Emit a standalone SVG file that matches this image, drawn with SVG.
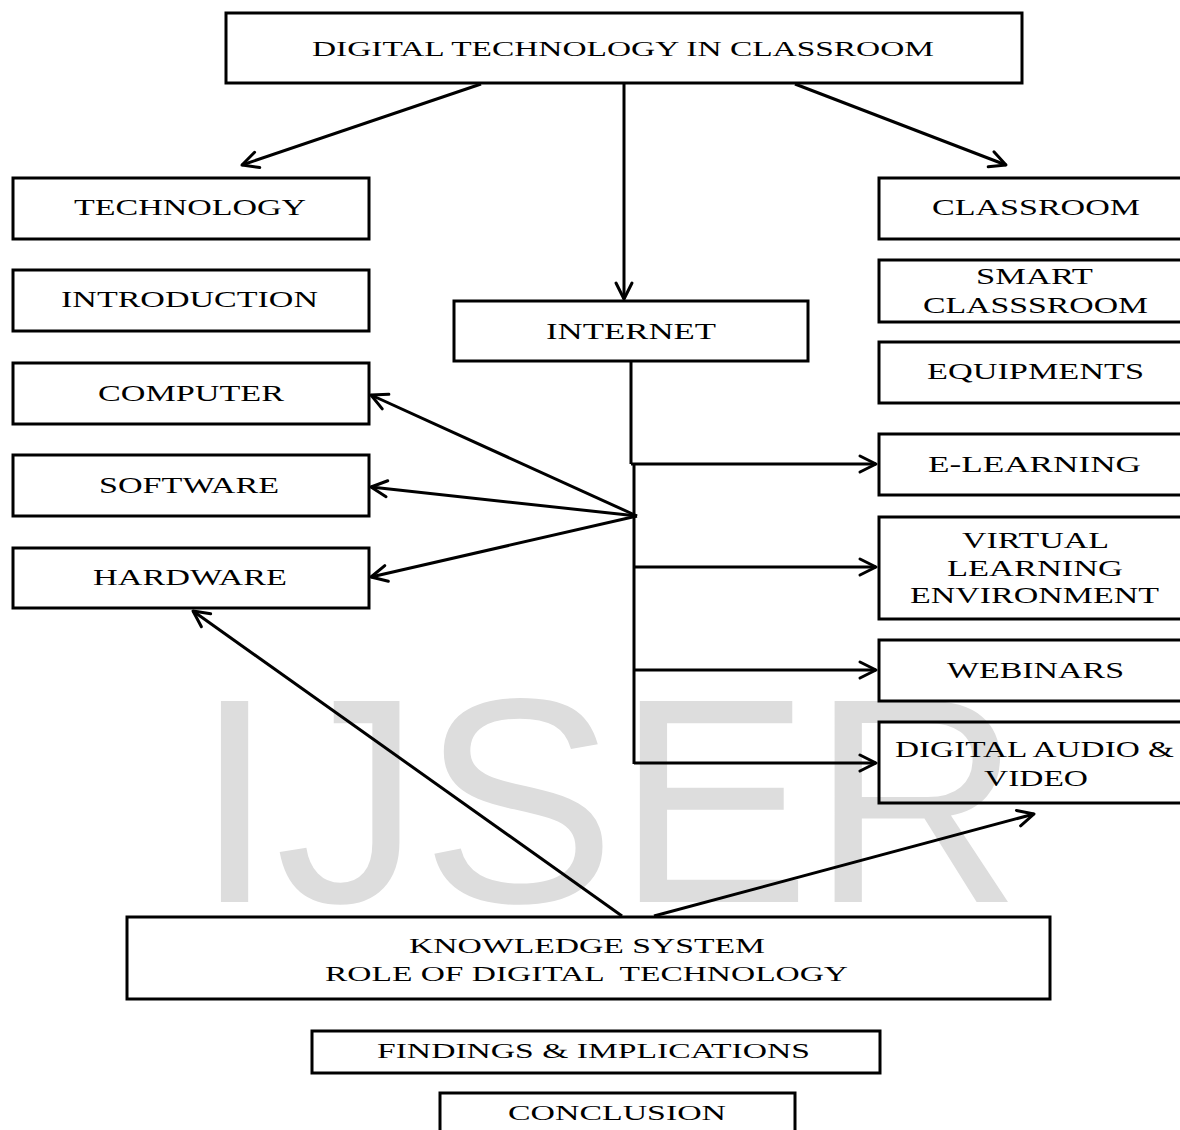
<svg xmlns="http://www.w3.org/2000/svg" width="1180" height="1130" viewBox="0 0 1180 1130">
<style>
.box{fill:none;stroke:#000;stroke-width:3}
.t{font-family:"Liberation Serif","Times New Roman",serif;font-size:23px;fill:#000}
.s{font-size:21px}
.c{fill:none;stroke:#000;stroke-width:3}
.wm{font-family:"Liberation Sans",Arial,sans-serif;font-size:292px;fill:#dddddd}
</style>
<defs>
<marker id="ah" markerUnits="userSpaceOnUse" markerWidth="22" markerHeight="22" viewBox="0 0 22 22" refX="19" refY="11" orient="auto">
<path d="M3,3 L19,11 L3,19" fill="none" stroke="#000" stroke-width="3" stroke-linecap="round" stroke-linejoin="round"/>
</marker>
</defs>
<rect width="1180" height="1130" fill="#fff"/>
<text class="wm" x="194" y="902">IJSER</text>

<g id="n-title"><rect class="box" x="226" y="13" width="796" height="70"/><text class="t s" x="312" y="56" textLength="622" lengthAdjust="spacingAndGlyphs">DIGITAL TECHNOLOGY IN CLASSROOM</text></g>

<g id="n-technology"><rect class="box" x="13" y="178" width="356" height="61"/><text class="t" x="74" y="215" textLength="232" lengthAdjust="spacingAndGlyphs">TECHNOLOGY</text></g>
<g id="n-introduction"><rect class="box" x="13" y="270" width="356" height="61"/><text class="t" x="61" y="307" textLength="257" lengthAdjust="spacingAndGlyphs">INTRODUCTION</text></g>
<g id="n-computer"><rect class="box" x="13" y="363" width="356" height="61"/><text class="t" x="98" y="401" textLength="186" lengthAdjust="spacingAndGlyphs">COMPUTER</text></g>
<g id="n-software"><rect class="box" x="13" y="455" width="356" height="61"/><text class="t" x="99" y="493" textLength="180" lengthAdjust="spacingAndGlyphs">SOFTWARE</text></g>
<g id="n-hardware"><rect class="box" x="13" y="548" width="356" height="60"/><text class="t" x="93" y="585" textLength="194" lengthAdjust="spacingAndGlyphs">HARDWARE</text></g>

<g id="n-internet"><rect class="box" x="454" y="301" width="354" height="60"/><text class="t" x="546" y="339" textLength="170" lengthAdjust="spacingAndGlyphs">INTERNET</text></g>

<g id="n-classroom"><rect class="box" x="879" y="178" width="310" height="61"/><text class="t" x="932" y="215" textLength="208" lengthAdjust="spacingAndGlyphs">CLASSROOM</text></g>
<g id="n-smart"><rect class="box" x="879" y="260" width="310" height="62"/><text class="t" x="976" y="284" textLength="117" lengthAdjust="spacingAndGlyphs">SMART</text><text class="t" x="923" y="313" textLength="225" lengthAdjust="spacingAndGlyphs">CLASSSROOM</text></g>
<g id="n-equipments"><rect class="box" x="879" y="342" width="310" height="61"/><text class="t" x="927" y="379" textLength="217" lengthAdjust="spacingAndGlyphs">EQUIPMENTS</text></g>
<g id="n-elearning"><rect class="box" x="879" y="434" width="310" height="61"/><text class="t" x="928" y="472" textLength="213" lengthAdjust="spacingAndGlyphs">E-LEARNING</text></g>
<g id="n-vle"><rect class="box" x="879" y="517" width="310" height="102"/><text class="t" x="962" y="548" textLength="147" lengthAdjust="spacingAndGlyphs">VIRTUAL</text><text class="t" x="947" y="576" textLength="176" lengthAdjust="spacingAndGlyphs">LEARNING</text><text class="t" x="910" y="603" textLength="249" lengthAdjust="spacingAndGlyphs">ENVIRONMENT</text></g>
<g id="n-webinars"><rect class="box" x="879" y="640" width="310" height="61"/><text class="t" x="947" y="678" textLength="177" lengthAdjust="spacingAndGlyphs">WEBINARS</text></g>
<g id="n-audio"><rect class="box" x="879" y="722" width="310" height="81"/><text class="t" x="895" y="757" textLength="279" lengthAdjust="spacingAndGlyphs">DIGITAL AUDIO &amp;</text><text class="t" x="984" y="786" textLength="104" lengthAdjust="spacingAndGlyphs">VIDEO</text></g>

<g id="n-knowledge"><rect class="box" x="127" y="917" width="923" height="82"/><text class="t s" x="409" y="953" textLength="356" lengthAdjust="spacingAndGlyphs">KNOWLEDGE SYSTEM</text><text class="t s" x="325" y="981" textLength="523" lengthAdjust="spacingAndGlyphs" xml:space="preserve">ROLE OF DIGITAL  TECHNOLOGY</text></g>
<g id="n-findings"><rect class="box" x="312" y="1031" width="568" height="42"/><text class="t s" x="377" y="1058" textLength="433" lengthAdjust="spacingAndGlyphs">FINDINGS &amp; IMPLICATIONS</text></g>
<g id="n-conclusion"><rect class="box" x="440" y="1093" width="355" height="50"/><text class="t s" x="508" y="1120" textLength="218" lengthAdjust="spacingAndGlyphs">CONCLUSION</text></g>

<g id="connectors">
<line class="c" x1="481" y1="84" x2="242" y2="165" marker-end="url(#ah)"/>
<line class="c" x1="624" y1="84" x2="624" y2="299" marker-end="url(#ah)"/>
<line class="c" x1="795" y1="84" x2="1006" y2="165" marker-end="url(#ah)"/>
<path class="c" d="M631,361 L631,464 M634,464 L634,764"/>
<line class="c" x1="631" y1="464" x2="876" y2="464" marker-end="url(#ah)"/>
<line class="c" x1="634" y1="567" x2="876" y2="567" marker-end="url(#ah)"/>
<line class="c" x1="634" y1="670" x2="876" y2="670" marker-end="url(#ah)"/>
<line class="c" x1="634" y1="763" x2="876" y2="763" marker-end="url(#ah)"/>
<line class="c" x1="637" y1="516" x2="371" y2="395" marker-end="url(#ah)"/>
<line class="c" x1="637" y1="516" x2="371" y2="487" marker-end="url(#ah)"/>
<line class="c" x1="637" y1="516" x2="371" y2="577" marker-end="url(#ah)"/>
<line class="c" x1="622" y1="916" x2="193" y2="611" marker-end="url(#ah)"/>
<line class="c" x1="654" y1="916" x2="1034" y2="814" marker-end="url(#ah)"/>
</g>
</svg>
